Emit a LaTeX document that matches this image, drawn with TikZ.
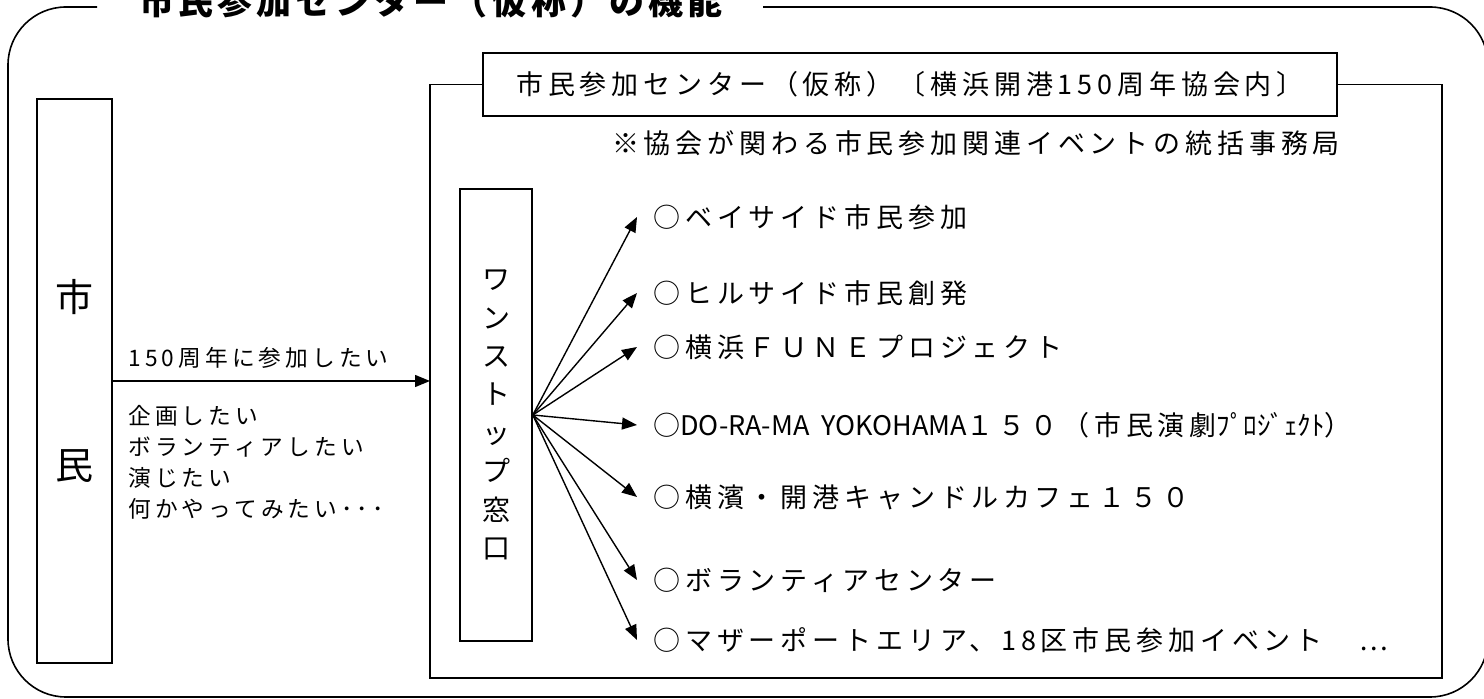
\documentclass[tikz,border=0pt]{standalone}
\usepackage{fontspec}
\setmainfont{Noto Sans CJK JP}
\newfontfamily\jp{Noto Sans CJK JP}[LetterSpace=18]
\newfontfamily\jpn{Noto Sans CJK JP}
\newfontfamily\jpt{Noto Sans CJK JP}[LetterSpace=12]
\usetikzlibrary{positioning}
\usetikzlibrary{arrows.meta}

\begin{document}
\begin{tikzpicture}[x=0.5pt, y=-0.5pt,
		box/.style={draw, line width=0.8pt, inner sep=0pt},
		frame/.style={line width=0.8pt},
		arr/.style={-{Triangle[length=7.5pt,width=6pt]}, line width=0.7pt},
		item/.style={anchor=west, inner xsep=8pt, inner ysep=0pt, font=\jp\fontsize{13.5pt}{16pt}\selectfont}]
		\useasboundingbox (0,0) rectangle (1484,699);

		% Outer frame with title
		\node[font=\jpt\bfseries\fontsize{17.5pt}{20pt}\selectfont] (title) at (431,1) {市民参加センター（仮称）の機能};
		\draw[frame, rounded corners=29pt] (97,7) -- (8,7) -- (8,697) -- (1488,697) -- (1488,7) -- (763,7);

		% Citizens
		\node[box, minimum width=37.5pt, minimum height=282pt, align=center, font=\jpn\fontsize{19pt}{84pt}\selectfont] (shimin) at (74.5,381) {市\\民};
		\node[anchor=west, inner sep=0pt, font=\jp\fontsize{11.35pt}{15.5pt}\selectfont] (want) at (128,358) {150周年に参加したい};
		\node[anchor=north west, inner sep=0pt, align=left, font=\jp\fontsize{11.35pt}{15.5pt}\selectfont] (wants) at (128,405) {企画したい\\ボランティアしたい\\演じたい\\何かやってみたい･･･};

		% Centre frame
		\node[box, minimum width=427pt, minimum height=31.5pt, font=\jp\fontsize{13.5pt}{16pt}\selectfont] (head) at (910,84.5) {市民参加センター（仮称）〔横浜開港150周年協会内〕};
		\node[inner sep=0pt, outer sep=0pt, minimum width=506pt, minimum height=297.5pt] (centre) at (936,380.5) {};
		\draw[frame] (head.west) -- (head.west -| centre.west) -- (centre.south west) -- (centre.south east) -- (head.east -| centre.east) -- (head.east);
		\node[font=\jp\fontsize{13.5pt}{16pt}\selectfont] (note) at (976,143) {※協会が関わる市民参加関連イベントの統括事務局};
		\draw[arr] (shimin.east) -- (shimin.east -| centre.west);

		% One-stop window and events
		\node[box, minimum width=36pt, minimum height=226pt, align=center, font=\jpn\fontsize{14pt}{19.2pt}\selectfont] (win) at (496,415) {ワ\\ン\\ス\\ト\\ッ\\プ\\窓\\口};
		\node[item] (i1) at (637,217) {○ベイサイド市民参加};
		\node[item] (i2) at (637,293) {○ヒルサイド市民創発};
		\node[item] (i3) at (637,347) {○横浜ＦＵＮＥプロジェクト};
		\node[item] (i4) at (637,425) {○{\jpn DO-RA-MA\hspace{6pt}YOKOHAMA}１５０（市民演劇{\jpn ﾌﾟﾛｼﾞｪｸﾄ}）};
		\node[item] (i5) at (637,497) {○横濱・開港キャンドルカフェ１５０};
		\node[item] (i6) at (637,580) {○ボランティアセンター};
		\node[item] (i7) at (637,640) {○マザーポートエリア、18区市民参加イベント　…};
		\foreach \i in {1,...,7}
			\draw[arr] (win.east) -- (i\i.west);
	\end{tikzpicture}
\end{document}
